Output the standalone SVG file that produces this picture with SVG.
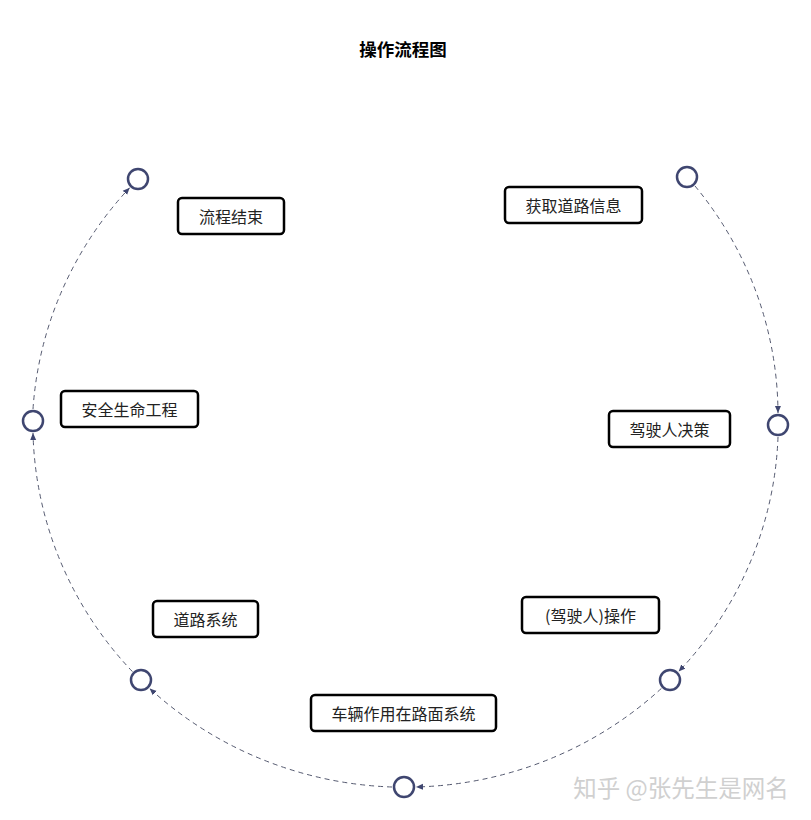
<svg xmlns="http://www.w3.org/2000/svg" width="811" height="820" viewBox="0 0 811 820">
<style>
.box{fill:#fff;stroke:#000;stroke-width:2.5}
.lbl{font-family:"Noto Sans CJK SC","Liberation Sans",sans-serif;font-size:16px;fill:#222;text-anchor:middle;dominant-baseline:central}
.node{fill:#fff;stroke:#3f4670;stroke-width:2.5}
.edge{fill:none;stroke:#555a70;stroke-width:1;stroke-dasharray:5,4;marker-end:url(#arr)}
</style>
<defs>
<marker id="arr" markerWidth="8" markerHeight="8" refX="7" refY="4" orient="auto" markerUnits="userSpaceOnUse">
<path d="M0,1 L7,4 L0,7 Z" fill="#3f4670"/>
</marker>
</defs>
<rect width="811" height="820" fill="#fff"/>
<text x="403" y="48" class="lbl" style="font-weight:bold;fill:#000;font-size:17.5px">操作流程图</text>
<g id="connectors">
<path class="edge" d="M695,186 A373,364 0 0 1 778,413"/>
<path class="edge" d="M778,437 A373,364 0 0 1 678.6,671.6"/>
<path class="edge" d="M661.4,688.4 A373,364 0 0 1 416,787"/>
<path class="edge" d="M392,787 A373,364 0 0 1 149.6,688.4"/>
<path class="edge" d="M132.4,671.6 A373,364 0 0 1 33,433"/>
<path class="edge" d="M33,409 A373,364 0 0 1 129.7,187.7"/>
</g>
<g id="n1"><circle class="node" cx="138" cy="179" r="10"/></g>
<g id="n2"><circle class="node" cx="687" cy="177" r="10"/></g>
<g id="n3"><circle class="node" cx="778" cy="425" r="10"/></g>
<g id="n4"><circle class="node" cx="670" cy="680" r="10"/></g>
<g id="n5"><circle class="node" cx="404" cy="787" r="10"/></g>
<g id="n6"><circle class="node" cx="141" cy="680" r="10"/></g>
<g id="n7"><circle class="node" cx="33" cy="421" r="10"/></g>
<g id="b1"><rect class="box" x="178" y="198" width="106" height="36" rx="4"/><text class="lbl" x="231" y="216">流程结束</text></g>
<g id="b2"><rect class="box" x="505" y="187" width="137" height="36" rx="4"/><text class="lbl" x="573.5" y="205">获取道路信息</text></g>
<g id="b3"><rect class="box" x="61" y="391" width="137" height="36" rx="4"/><text class="lbl" x="129.5" y="409">安全生命工程</text></g>
<g id="b4"><rect class="box" x="609" y="411" width="121" height="36" rx="4"/><text class="lbl" x="669.5" y="429">驾驶人决策</text></g>
<g id="b5"><rect class="box" x="153" y="601" width="105" height="36" rx="4"/><text class="lbl" x="205.5" y="619">道路系统</text></g>
<g id="b6"><rect class="box" x="522" y="597" width="137" height="36" rx="4"/><text class="lbl" x="590.5" y="615">(驾驶人)操作</text></g>
<g id="b7"><rect class="box" x="311" y="695" width="185" height="36" rx="4"/><text class="lbl" x="403.5" y="713">车辆作用在路面系统</text></g>
<text x="681" y="787" class="lbl" style="font-size:23.5px;fill:#d0d0d0">知乎 @张先生是网名</text>
</svg>
